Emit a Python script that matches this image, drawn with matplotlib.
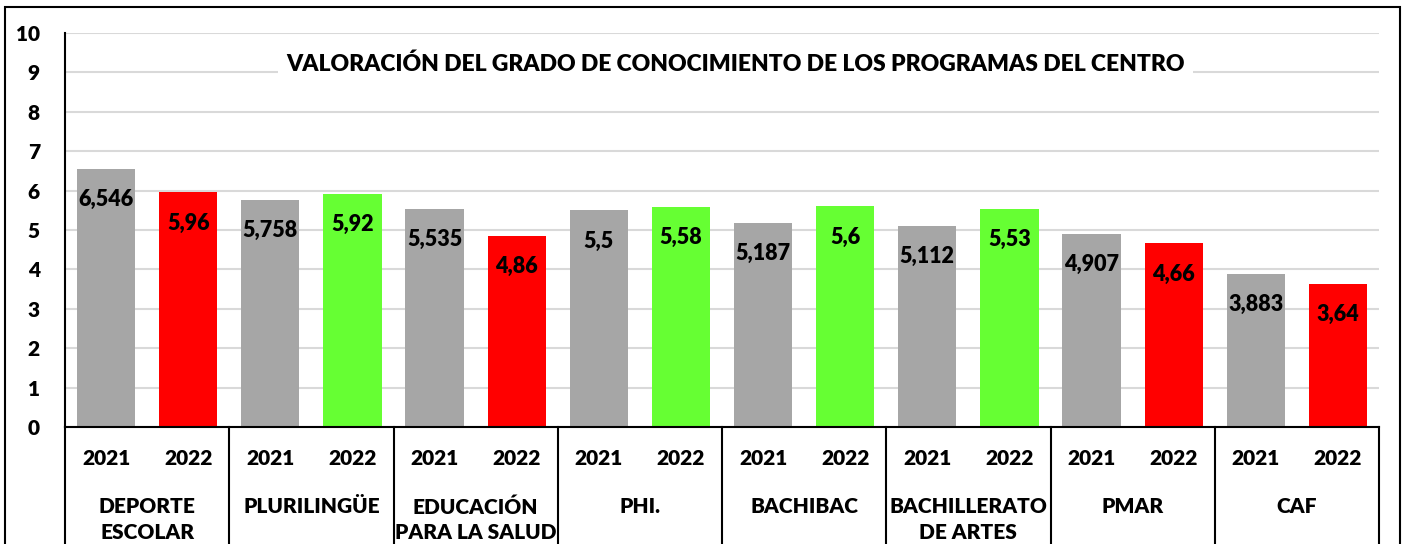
import matplotlib.pyplot as plt
from matplotlib.patches import Rectangle

# data
programas = ["DEPORTE\nESCOLAR", "PLURILINGÜE", "EDUCACIÓN\nPARA LA SALUD", "PHI.",
             "BACHIBAC", "BACHILLERATO\nDE ARTES", "PMAR", "CAF"]
valores_2021 = [6.546, 5.758, 5.535, 5.5, 5.187, 5.112, 4.907, 3.883]
valores_2022 = [5.96, 5.92, 4.86, 5.58, 5.6, 5.53, 4.66, 3.64]
etiq_2021 = ["6,546", "5,758", "5,535", "5,5", "5,187", "5,112", "4,907", "3,883"]
etiq_2022 = ["5,96", "5,92", "4,86", "5,58", "5,6", "5,53", "4,66", "3,64"]
years = ["2021", "2022"]
titulo = "VALORACIÓN DEL GRADO DE CONOCIMIENTO DE LOS PROGRAMAS DEL CENTRO"

plt.rcParams['font.family'] = ['Lato', 'DejaVu Sans']
PESO = 'heavy'

GRIS = '#A6A6A6'
ROJO = '#FF0000'
VERDE = '#66FF33'

fig = plt.figure(figsize=(14.09, 5.44), dpi=100)
ax = fig.add_axes([65 / 1409, 1 - 427 / 544, 1314 / 1409, 394 / 544])

# outer chart border
fig.patches.append(Rectangle((5 / 1409, -0.1), 1395 / 1409, 1.1 - 7 / 544, transform=fig.transFigure,
                             fill=False, edgecolor='black', linewidth=1.5))

n = len(programas)
x21 = [2 * i + 0.5 for i in range(n)]
x22 = [2 * i + 1.5 for i in range(n)]
w = 0.71

ax.bar(x21, valores_2021, width=w, color=GRIS, zorder=2)
colores_22 = [VERDE if b > a else ROJO for a, b in zip(valores_2021, valores_2022)]
ax.bar(x22, valores_2022, width=w, color=colores_22, zorder=2)

for x, v, t in zip(x21, valores_2021, etiq_2021):
    ax.text(x, v - 0.78, t, ha='center', va='center', fontsize=15.5, fontweight=PESO, zorder=3)
for x, v, t in zip(x22, valores_2022, etiq_2022):
    ax.text(x, v - 0.78, t, ha='center', va='center', fontsize=15.5, fontweight=PESO, zorder=3)

ax.set_xlim(0, 2 * n)
ax.set_ylim(0, 10)
ax.set_yticks(range(0, 11))
ax.tick_params(axis='y', length=0, labelsize=15, pad=18)
ax.set_xticks([])
for lab in ax.get_yticklabels():
    lab.set_fontweight(PESO)
ax.grid(axis='y', color='#D9D9D9', linewidth=1.5, zorder=0)

for s in ['top', 'right']:
    ax.spines[s].set_visible(False)
ax.spines['left'].set_linewidth(1.5)
ax.spines['bottom'].set_linewidth(1.5)

# category table below axis
tr = ax.get_xaxis_transform()
for i in range(n + 1):
    ax.plot([2 * i, 2 * i], [0, -0.4], color='black', linewidth=1.5, transform=tr, clip_on=False)
for i in range(n):
    ax.text(x21[i], -0.08, years[0], transform=tr, ha='center', va='center', fontsize=15, fontweight=PESO)
    ax.text(x22[i], -0.08, years[1], transform=tr, ha='center', va='center', fontsize=15, fontweight=PESO)
    ax.text(2 * i + 1, -0.178, programas[i], transform=tr, ha='center', va='top', fontsize=15,
            fontweight=PESO, linespacing=1.4)

ax.text(0.51, 0.92, titulo, transform=ax.transAxes, ha='center', va='center', fontsize=16.5,
        fontweight=PESO, zorder=4,
        bbox=dict(facecolor='white', edgecolor='none', pad=6))

fig.savefig('out.png', dpi=100)
